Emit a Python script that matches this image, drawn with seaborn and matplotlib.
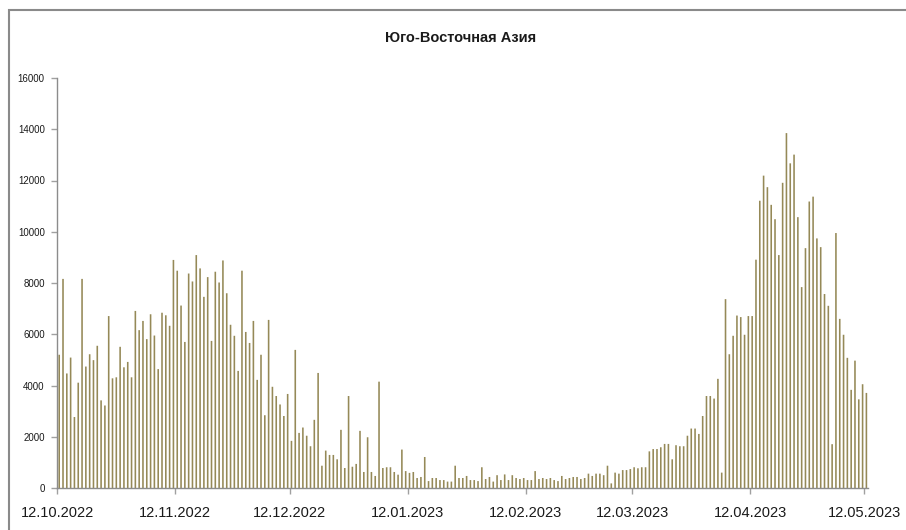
import numpy as np
import pandas as pd
import matplotlib
matplotlib.use('Agg')
import matplotlib.pyplot as plt
from matplotlib.patches import Rectangle
import seaborn as sns

# ежедневные значения, 12.10.2022 - 12.05.2023
start_date = '2022-10-12'
end_date = '2023-05-12'
values = [
    5200, 8160, 4470, 5090, 2770, 4110, 8160, 4740, 5220, 4990,
    5550, 3420, 3220, 6710, 4280, 4320, 5510, 4710, 4920, 4320,
    6910, 6160, 6520, 5810, 6780, 5950, 4640, 6840, 6740, 6330,
    8900, 8480, 7120, 5700, 8370, 8060, 9090, 8570, 7460, 8230,
    5740, 8440, 8020, 8880, 7600, 6370, 5940, 4570, 8480, 6090,
    5660, 6520, 4220, 5200, 2840, 6560, 3950, 3590, 3260, 2810,
    3670, 1840, 5390, 2150, 2360, 2040, 1630, 2660, 4490, 870,
    1460, 1290, 1290, 1120, 2270, 780, 3590, 830, 940, 2230,
    625, 1980, 625, 470, 4150, 780, 810, 810, 625, 520,
    1500, 660, 590, 625, 390, 430, 1210, 270, 390, 390,
    310, 310, 250, 250, 870, 390, 390, 470, 310, 310,
    270, 810, 350, 430, 250, 500, 310, 530, 310, 500,
    390, 350, 390, 310, 310, 660, 350, 390, 350, 390,
    310, 270, 470, 350, 390, 430, 430, 350, 390, 560,
    470, 560, 560, 500, 870, 180, 600, 560, 700, 700,
    740, 810, 770, 810, 810, 1430, 1520, 1520, 1590, 1720,
    1720, 1120, 1670, 1630, 1630, 2040, 2320, 2320, 2110, 2810,
    3590, 3590, 3490, 4260, 600, 7370, 5220, 5940, 6730, 6670,
    5980, 6710, 6710, 8910, 11210, 12190, 11740, 11050, 10490, 9090,
    11910, 13850, 12670, 13010, 10570, 7840, 9360, 11180, 11370, 9740,
    9400, 7570, 7110, 1710, 9950, 6600, 5980, 5080, 3830, 4970,
    3460, 4050, 3710,
]
tick_dates = ['2022-10-12', '2022-11-12', '2022-12-12', '2023-01-12',
              '2023-02-12', '2023-03-12', '2023-04-12', '2023-05-12']
y_ticks = [0, 2000, 4000, 6000, 8000, 10000, 12000, 14000, 16000]
title = 'Юго-Восточная Азия'

dates = pd.date_range(start_date, end_date, freq='D')
t0 = dates[0]
df = pd.DataFrame({'day': (dates - t0).days + 0.5, 'value': values})
tick_pos = [(pd.Timestamp(d) - t0).days for d in tick_dates]
tick_labels = [pd.Timestamp(d).strftime('%d.%m.%Y') for d in tick_dates]

sns.set_style('white')
plt.rcParams['font.family'] = ['Liberation Sans', 'DejaVu Sans']

fig = plt.figure(figsize=(9.06, 5.30), dpi=100)
ax = fig.add_axes([57.3 / 906, 1 - 488 / 530, 811 / 906, 410 / 530])

sns.barplot(data=df, x='day', y='value', native_scale=True, width=0.42,
            color='#958957', saturation=1, ax=ax, edgecolor='none', snap=False)

ax.set_xlim(0, 213)
ax.set_ylim(0, 16000)
ax.set_xticks(tick_pos)
ax.set_xticklabels(tick_labels, fontsize=10.5, color='#1a1a1a')
ax.set_yticks(y_ticks)
ax.set_yticklabels([str(v) for v in y_ticks], fontsize=7, color='#1a1a1a')
ax.set_xlabel('')
ax.set_ylabel('')
ax.tick_params(axis='x', length=4, width=1, color='#a0a0a0', pad=9, direction='out', bottom=True)
ax.tick_params(axis='y', length=4, width=1, color='#a0a0a0', pad=5, direction='out', left=True)

for side in ['top', 'right']:
    ax.spines[side].set_visible(False)
for side in ['left', 'bottom']:
    ax.spines[side].set_color('#8c8c8c')
    ax.spines[side].set_linewidth(1)

fig.text(461 / 906, 1 - 38 / 530, title, ha='center', va='center',
         fontsize=10.5, fontweight='bold', color='#1a1a1a')

# рамка области диаграммы
fig.patches.append(Rectangle((9 / 906, -0.1), 1.1, 1 - 10 / 530 + 0.1,
                             transform=fig.transFigure, fill=False,
                             edgecolor='#8a8a8a', linewidth=1.5))

fig.savefig('out.png', dpi=100)
